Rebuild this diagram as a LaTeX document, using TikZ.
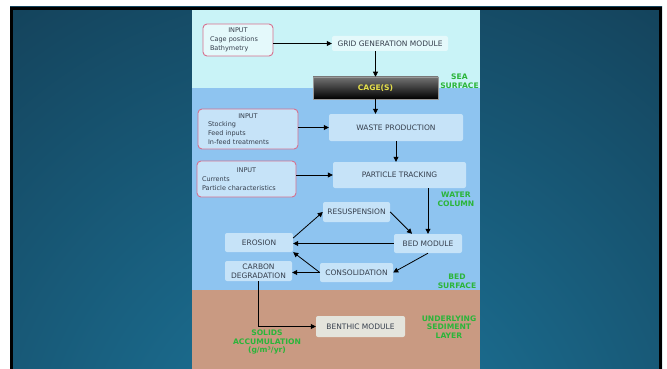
\documentclass[tikz,border=0pt]{standalone}
\usepackage{fontspec}
\setmainfont{DejaVu Sans}
\usepackage{xcolor}
\usepackage{tikz}
\usetikzlibrary{arrows.meta}

\definecolor{seacol}{HTML}{C9F3F7}
\definecolor{watercol}{HTML}{8EC4F0}
\definecolor{sedcol}{HTML}{C99A82}
\definecolor{boxcol}{HTML}{C6E3F8}
\definecolor{paleblue}{HTML}{E4F9FB}
\definecolor{palegray}{HTML}{E4E4DC}
\definecolor{pinkcol}{HTML}{D6708E}
\definecolor{labgreen}{HTML}{2BB53A}
\definecolor{txtcol}{HTML}{353E4C}
\definecolor{cageyellow}{HTML}{E6E04A}
\definecolor{bgdark}{HTML}{133C53}
\definecolor{bglight}{HTML}{1D7AA0}

\begin{document}
\begin{tikzpicture}[
    x=1pt, y=-1pt,
    box/.style={fill=boxcol, rounded corners=2pt, text=txtcol, inner sep=1pt,
                font=\fontsize{7.5}{8.7}\selectfont, align=center},
    inbox/.style={draw=pinkcol, line width=0.9pt, rounded corners=4pt, fill=boxcol,
                  text=txtcol, inner sep=0pt, font=\fontsize{6.5}{8.7}\selectfont, align=left},
    cagebox/.style={top color=black!55, middle color=black!95, bottom color=black,
                    draw=black!40, line width=0.5pt, text=cageyellow,
                    font=\bfseries\fontsize{7.6}{8.7}\selectfont},
    zone/.style={text=labgreen, font=\bfseries\fontsize{7.6}{8.7}\selectfont, align=center},
    arr/.style={-{Triangle[length=5pt,width=5pt]}, line width=0.8pt},
]
\useasboundingbox (0,0) rectangle (667,369);

% Slide background and frame
\fill[white] (0,0) rectangle (667,369);
\begin{scope}
  \clip (10,7) rectangle (662,369);
  \fill[bgdark] (10,7) rectangle (662,369);
  \shade[inner color=bglight, outer color=bgdark] (336,470) circle (640);
\end{scope}
\draw[black, line width=3pt] (11.5,372) -- (11.5,8.5) -- (660.5,8.5) -- (660.5,372);

% Sea, water column and sediment
\fill[seacol]   (192,10)  rectangle (480,88);
\fill[watercol] (192,88)  rectangle (480,290);
\fill[sedcol]   (192,290) rectangle (480,369);

% Input boxes
\node[inbox, fill=paleblue, text width=56pt, minimum width=70pt, minimum height=32pt]
    (gridin) at (238,40) {\makebox[\hsize]{INPUT}\\Cage positions\\Bathymetry};
\node[inbox, text width=80pt, minimum width=100pt, minimum height=40pt]
    (stockin) at (248,129) {\makebox[\hsize]{INPUT}\\Stocking\\Feed inputs\\In-feed treatments};
\node[inbox, text width=89pt, minimum width=99pt, minimum height=36pt]
    (currin) at (246.5,179) {\makebox[\hsize]{INPUT}\\Currents\\Particle characteristics};

% Model modules
\node[box, fill=paleblue, minimum width=116pt, minimum height=15pt] (grid) at (390,43.5) {GRID GENERATION MODULE};
\node[cagebox, minimum width=125pt, minimum height=22pt] (cage) at (375.5,88) {CAGE(S)};
\node[box, minimum width=134pt, minimum height=27pt] (waste) at (396,127.5) {WASTE PRODUCTION};
\node[box, minimum width=133pt, minimum height=26pt] (track) at (399.5,175) {PARTICLE TRACKING};
\node[box, minimum width=67pt, minimum height=20pt] (resus) at (356.5,212) {RESUSPENSION};
\node[box, minimum width=68pt, minimum height=19pt] (bed) at (428,243.5) {BED MODULE};
\node[box, minimum width=68pt, minimum height=19pt] (eros) at (259,242.5) {EROSION};
\node[box, minimum width=67pt, minimum height=20pt] (carb) at (258.5,271) {CARBON\\DEGRADATION};
\node[box, minimum width=73pt, minimum height=19pt] (consol) at (356.5,272.5) {CONSOLIDATION};
\node[box, fill=palegray, minimum width=89pt, minimum height=21pt] (benth) at (360.5,326.5) {BENTHIC MODULE};

% Zone labels (clipped by the panel)
\begin{scope}
  \clip (192,10) rectangle (480,369);
  \node[zone] (seasurf) at (459.5,81) {SEA\\SURFACE};
  \node[zone] (watcol)  at (456,199)  {WATER\\COLUMN};
  \node[zone] (bedsurf) at (457,281)  {BED\\SURFACE};
  \node[zone] (sedlay)  at (449,327)  {UNDERLYING\\SEDIMENT\\LAYER};
  \node[zone] (solids)  at (267,342)  {SOLIDS\\ACCUMULATION\\(g/m³/yr)};
\end{scope}

% Arrows
\draw[arr] (gridin.east |- grid.west) -- (grid.west);
\draw[arr] (grid.south -| cage.north) -- (cage.north);
\draw[arr] (cage.south) -- (cage.south |- waste.north);
\draw[arr] (stockin.east |- waste.west) -- (waste.west);
\draw[arr] (waste.south) -- (waste.south |- track.north);
\draw[arr] (currin.east |- track.west) -- (track.west);
\draw[arr] (bed.north |- track.south) -- (bed.north);

% Bed processes
\draw[arr] ([yshift=4.5pt]eros.east) -- (resus.west);
\draw[arr] (resus.east) -- ([xshift=-16pt]bed.north);
\draw[arr] (bed.west) -- (bed.west -| eros.east);
\draw[arr] (bed.south) -- (consol.east);
\draw[arr] (consol.west) -- (eros.south east);
\draw[arr] (consol.west) -- (consol.west -| carb.east);
\draw[arr] (carb.south) |- (benth.west);

\end{tikzpicture}
\end{document}
